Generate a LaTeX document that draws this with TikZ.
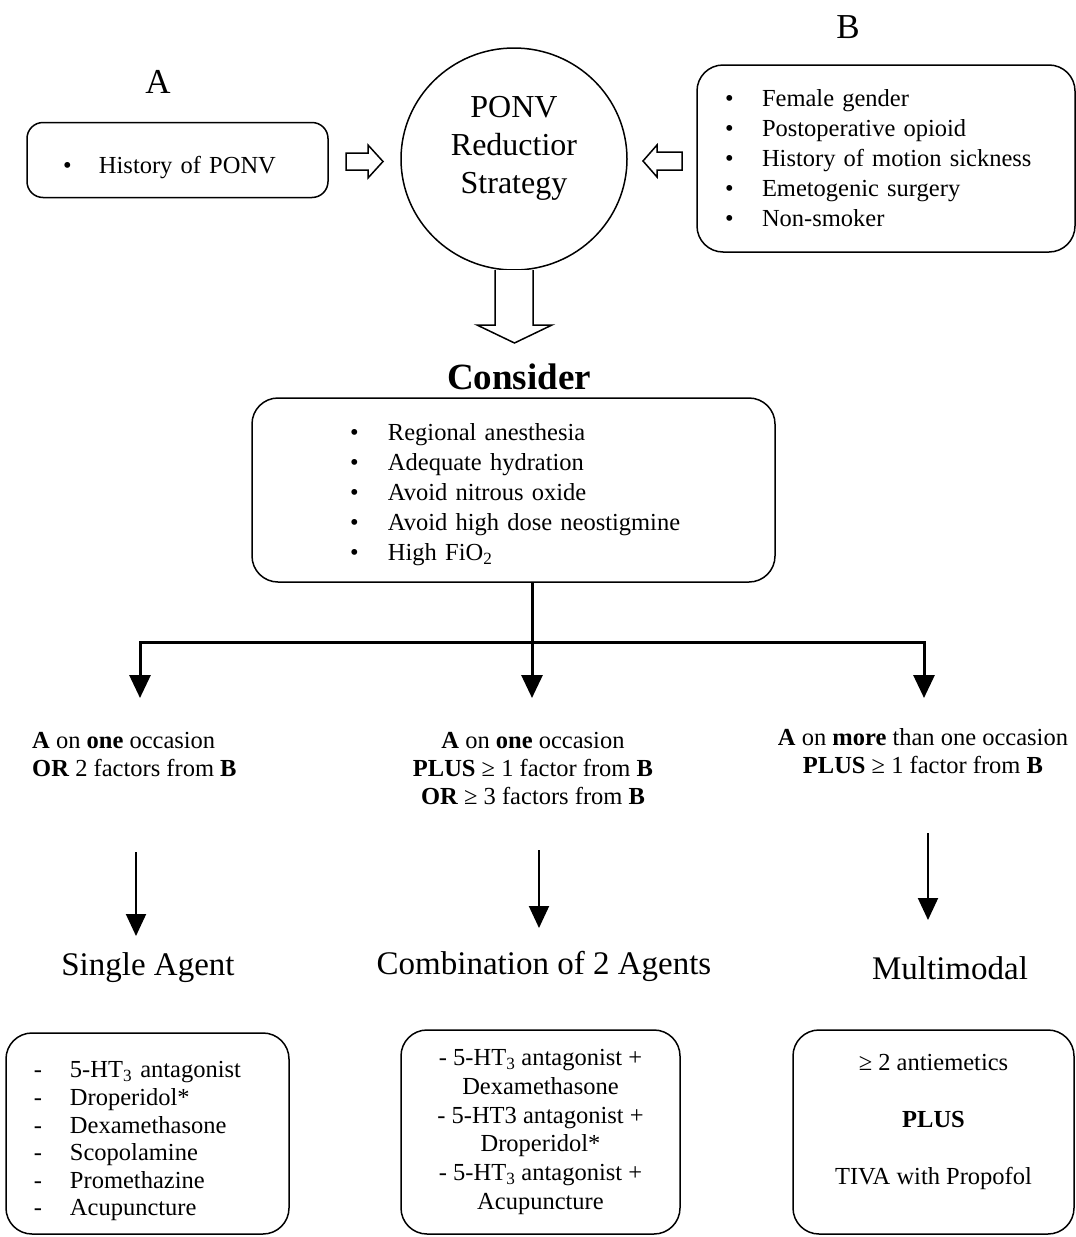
\documentclass[tikz,border=0pt]{standalone}
\usepackage{fontspec}
\setmainfont{Liberation Serif}
\usetikzlibrary{arrows.meta,shapes.geometric}
\newcommand\bitem[2]{\mbox{\makebox[#1][l]{\textbullet}#2}}
\newcommand\ditem[1]{\mbox{\makebox[36pt][l]{-}#1}}
\begin{document}
\begin{tikzpicture}[x=1pt,y=-1pt,
  box/.style={draw, line width=1.5pt, rounded corners=#1, inner ysep=0pt},
  box/.default=26pt,
  body/.style={font=\fontsize{24.5}{30}\selectfont},
  cond/.style={font=\fontsize{24.5}{28}\selectfont, inner sep=0pt},
  head/.style={font=\fontsize{33}{38}\selectfont, inner sep=0pt},
  letter/.style={font=\fontsize{35}{40}\selectfont, inner sep=0pt},
  hollow/.style={draw, line width=1.5pt, fill=white, line join=miter},
  tree/.style={line width=3pt, line join=miter, -{Triangle[length=23pt,width=21pt]}},
  thin/.style={line width=2pt, -{Triangle[length=22pt,width=20pt]}}]
\useasboundingbox[fill=white] (0,0) rectangle (1076,1237);

% top labels
\node[letter] (la) at (158,82) {A};
\node[letter] (lb) at (848,27) {B};

% box A
\node[box=16pt, body, minimum width=301pt, minimum height=75pt, inner xsep=36pt,
      text width=229pt, align=left, text height=32pt] (boxA) at (177.5,160)
  {\bitem{36pt}{History of PONV}};

% circle
\node[draw, line width=1.5pt, ellipse, minimum width=226pt, minimum height=222pt, inner sep=0pt] (ponv) at (514,159) {};
\node[font=\fontsize{32}{38}\selectfont, align=center, inner sep=0pt] (ponvtxt) at (514,148) {PONV\\Reductior\\Strategy};

% box B
\node[box, body, minimum width=378pt, minimum height=187pt, inner xsep=28pt,
      text width=322pt, align=left] (boxB) at (886,158.5)
  {\bitem{37pt}{Female gender}\\
   \bitem{37pt}{Postoperative opioid}\\
   \bitem{37pt}{History of motion sickness}\\
   \bitem{37pt}{Emetogenic surgery}\\
   \bitem{37pt}{Non-smoker}};

% hollow arrows
\draw[hollow] (346,153) -- (368,153) -- (368,145) -- (383,161.5) -- (368,178) -- (368,170) -- (346,170) -- cycle;
\draw[hollow] (682,152) -- (657,152) -- (657,145) -- (643,161) -- (657,177) -- (657,170) -- (682,170) -- cycle;
\draw[hollow] (495,270) -- (495,325) -- (477,325) -- (514.5,343) -- (552,325) -- (533,325) -- (533,270);

% consider
\node[font=\fontsize{37}{42}\selectfont\bfseries, inner sep=0pt] (constitle) at (519,377) {Consider};
\node[box, body, minimum width=523pt, minimum height=184pt, inner xsep=98pt,
      text width=327pt, align=left, text height=26pt] (consider) at (513.5,490)
  {\bitem{38pt}{Regional anesthesia}\\
   \bitem{38pt}{Adequate hydration}\\
   \bitem{38pt}{Avoid nitrous oxide}\\
   \bitem{38pt}{Avoid high dose neostigmine}\\
   \bitem{38pt}{High FiO\textsubscript{2}}};

% tree
\coordinate (j) at (532,642);
\coordinate (t1) at (140,698);
\coordinate (t2) at (532,698);
\coordinate (t3) at (924,698);
\draw[line width=3pt] (consider.south -| j) -- (j);
\draw[tree] (j) -| (t1);
\draw[tree] (j) -- (t2);
\draw[tree] (j) -| (t3);

% conditions
\node[cond, anchor=west, align=left] (c1) at (32,754)
  {\textbf{A} on \textbf{one} occasion\\\textbf{OR} 2 factors from \textbf{B}};
\node[cond, align=center] (c2) at (533,768)
  {\textbf{A} on \textbf{one} occasion\\\textbf{PLUS} ≥ 1 factor from \textbf{B}\\\textbf{OR} ≥ 3 factors from \textbf{B}};
\node[cond, align=center] (c3) at (923,751)
  {\textbf{A} on \textbf{more} than one occasion\\\textbf{PLUS} ≥ 1 factor from \textbf{B}};

% second arrows
\coordinate (s1) at (136,852); \coordinate (e1) at (136,936);
\coordinate (s2) at (539,850); \coordinate (e2) at (539,928);
\coordinate (s3) at (928,833); \coordinate (e3) at (928,920);
\draw[thin] (s1) -- (e1);
\draw[thin] (s2) -- (e2);
\draw[thin] (s3) -- (e3);

% headings
\node[head] (h1) at (148,968) {Single Agent};
\node[head] (h2) at (544,966) {Combination of 2 Agents};
\node[head] (h3) at (950,968) {Multimodal};

% bottom boxes
\node[box, minimum width=283pt, minimum height=201pt, inner xsep=28pt, text width=227pt,
      align=left, font=\fontsize{24.5}{27.6}\selectfont, text height=32pt] (b1) at (147.5,1133.5)
  {\ditem{5-HT\textsubscript{3} antagonist}\\
   \ditem{Droperidol*}\\
   \ditem{Dexamethasone}\\
   \ditem{Scopolamine}\\
   \ditem{Promethazine}\\
   \ditem{Acupuncture}};
\node[box, minimum width=279pt, minimum height=204pt, inner xsep=0pt, align=center,
      font=\fontsize{24.5}{28.8}\selectfont] (b2) at (540.5,1132)
  {- 5-HT\textsubscript{3} antagonist +\\Dexamethasone\\
   - 5-HT3 antagonist +\\Droperidol*\\
   - 5-HT\textsubscript{3} antagonist +\\Acupuncture};
\node[box, minimum width=281pt, minimum height=204pt] (b3) at (933.5,1132) {};
\node[align=center, inner sep=0pt, font=\fontsize{24.5}{30}\selectfont] (b3t) at (933.5,1122)
  {≥ 2 antiemetics\\[27pt]\textbf{PLUS}\\[27pt]TIVA with Propofol};
\end{tikzpicture}
\end{document}
